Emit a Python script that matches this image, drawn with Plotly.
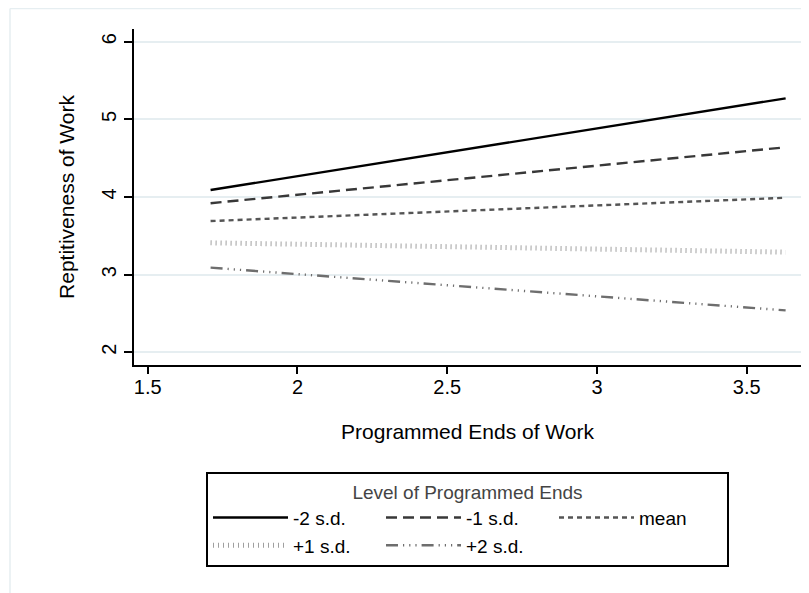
import plotly.graph_objects as go

x_vals = [1.71, 3.63]
series_names = ["-2 s.d.", "-1 s.d.", "mean", "+1 s.d.", "+2 s.d."]
series_values = [
    [4.09, 5.27],
    [3.92, 4.64],
    [3.69, 3.99],
    [3.41, 3.29],
    [3.09, 2.54],
]
x_ticks = [1.5, 2, 2.5, 3, 3.5]
x_tick_labels = ["1.5", "2", "2.5", "3", "3.5"]
y_ticks = [2, 3, 4, 5, 6]
y_tick_labels = ["2", "3", "4", "5", "6"]

styles = [
    dict(color="#000000", width=2.4, dash="solid"),
    dict(color="#383838", width=2.4, dash="11px,6px"),
    dict(color="#555555", width=2.4, dash="5px,4px"),
    dict(color="#a0a0a0", width=5, dash="1px,4px"),
    dict(color="#6e6e6e", width=2.4, dash="12px,5px,1.2px,5px,1.2px,5px,1.2px,5px"),
]

FONT = "Liberation Sans, Arial, Helvetica, sans-serif"

fig = go.Figure()
for name, vals, st in zip(series_names, series_values, styles):
    fig.add_trace(go.Scatter(x=x_vals, y=vals, mode="lines", name=name, line=st))

# page has an 8px body margin, so the figure is sized to fit inside it
W, H = 801, 585
L, R, T, B = 126, 8, 21, 228
pw, ph = W - L - R, H - T - B
fx = (2 - L) / pw
fy = (H - B - 0.5) / ph

fig.update_layout(
    width=W, height=H,
    margin=dict(l=L, r=R, t=T, b=B, autoexpand=False),
    paper_bgcolor="white", plot_bgcolor="white",
    font=dict(family=FONT, size=19, color="#000000"),
    showlegend=True,
    legend=dict(
        orientation="h",
        x=0.5, xanchor="center",
        y=(H - B - 464) / ph, yanchor="top",
        title=dict(text="Level of Programmed Ends", side="top center",
                   font=dict(family=FONT, size=19, color="#444444")),
        bordercolor="#000000", borderwidth=2,
        itemwidth=75,
        entrywidth=83,
        font=dict(family=FONT, size=19, color="#000000"),
        tracegroupgap=0,
    ),
    xaxis=dict(
        range=[1.5 - (147.7 - 134) / 299.5, 1.5 + (801 - 147.7) / 299.5],
        tickvals=x_ticks, ticktext=x_tick_labels,
        showgrid=False, zeroline=False, automargin=False,
        showline=True, linecolor="#000000", linewidth=2,
        ticks="outside", ticklen=7, tickwidth=2, tickcolor="#000000",
        ticklabelstandoff=-4,
        title=dict(text="Programmed Ends of Work", font=dict(size=21), standoff=27),
        tickfont=dict(size=20),
    ),
    yaxis=dict(
        range=[2 - (365 - 352.3) / 77.65, 6 + (41.7 - 29) / 77.65],
        tickvals=y_ticks, ticktext=y_tick_labels,
        tickangle=-90,
        showgrid=True, gridcolor="#e6eef1", gridwidth=1.5,
        zeroline=False, automargin=False,
        showline=True, linecolor="#000000", linewidth=2,
        ticks="outside", ticklen=8, tickwidth=2, tickcolor="#000000",
        title=dict(text="Reptitiveness of Work", font=dict(size=21), standoff=18),
        tickfont=dict(size=20),
    ),
    shapes=[
        dict(type="line", xref="paper", yref="paper", x0=fx, x1=fx, y0=-1, y1=fy,
             line=dict(color="#e6eef1", width=1.5)),
        dict(type="line", xref="paper", yref="paper", x0=fx, x1=1.5, y0=fy, y1=fy,
             line=dict(color="#e6eef1", width=1.5)),
    ],
)

fig.write_html("out.html")
